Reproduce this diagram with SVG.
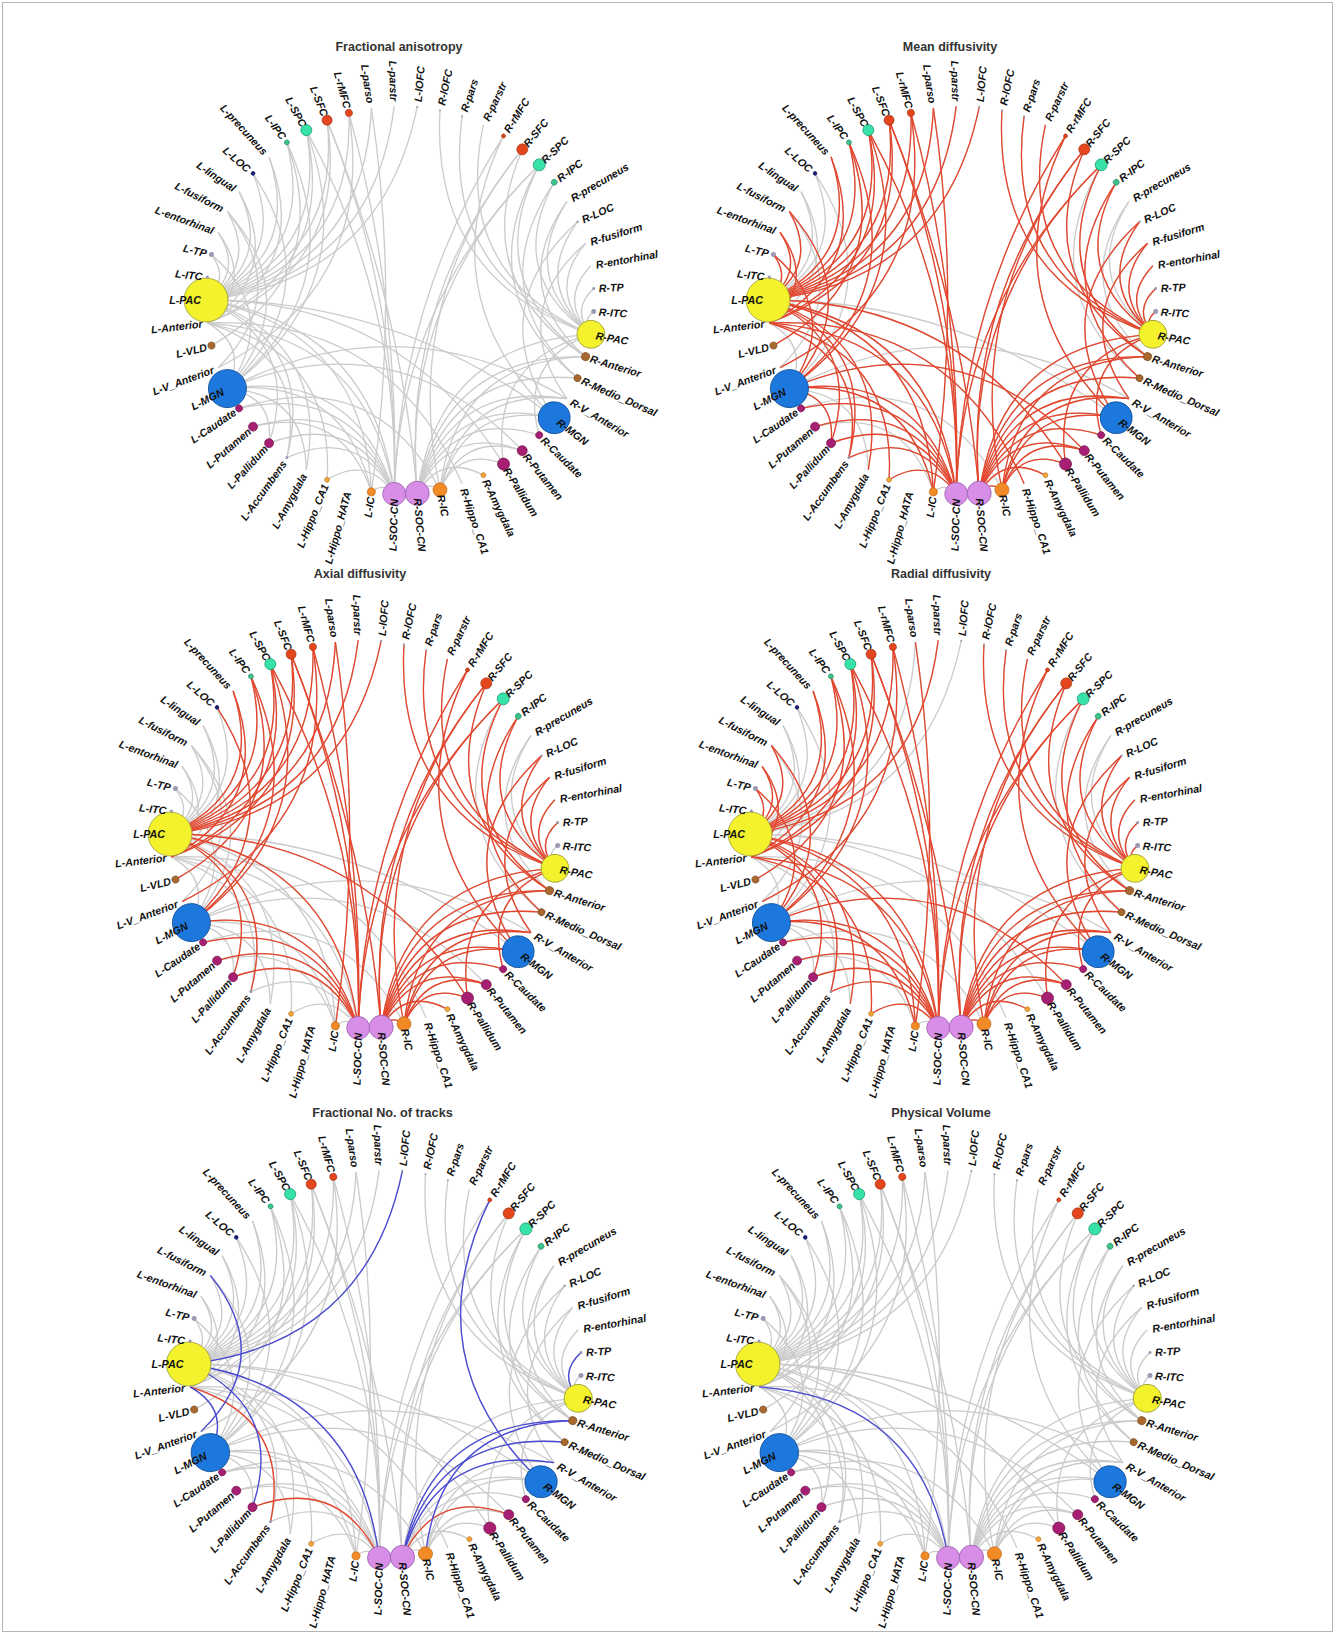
<svg xmlns="http://www.w3.org/2000/svg" xmlns:xlink="http://www.w3.org/1999/xlink" width="1335" height="1634" viewBox="0 0 1335 1634">
<style>
text{font-family:"Liberation Sans",Arial,sans-serif}
.ttl{font-size:12.5px;font-weight:bold;fill:#333;text-anchor:middle;dominant-baseline:central}
.n text{font-size:10.7px;font-weight:bold;font-style:italic;fill:#111;dominant-baseline:central}
.l text{text-anchor:end}
.eg{fill:none;stroke:#cbcbcb;stroke-width:1.3}
.er{fill:none;stroke:#e6452c;stroke-width:1.3}
.eb{fill:none;stroke:#4a4ad6;stroke-width:1.3}
.soc{fill:#d88ee6;stroke:#9b5fb0;stroke-width:.8}
.ic{fill:#f28a26;stroke:#b8661a;stroke-width:.6}
.ca{fill:#f0a63a;stroke:#b07020;stroke-width:.5}
.bg{fill:#a61f72;stroke:#6e1048;stroke-width:.6}
.mgn{fill:#1c78dc;stroke:#15509a;stroke-width:.8}
.th{fill:#a8682e;stroke:#6c4018;stroke-width:.6}
.pac{fill:#f4f22c;stroke:#9a9a38;stroke-width:.8}
.sm{fill:#9a9ab4}
.loc{fill:#1a1f6e}
.ipc{fill:#3cc28a;stroke:#248060;stroke-width:.5}
.spc{fill:#36e2a8;stroke:#1d9a70;stroke-width:.7}
.sfc{fill:#e4461e;stroke:#9c2a0c;stroke-width:.6}
</style>
<defs>
<g id="all">
<path id="e1" d="M-194 0Q-182.3-10.8-192.6-22.9"/>
<path id="e2" d="M-194 0Q-169.7-20.2-188.6-45.6"/>
<path id="e3" d="M-194 0Q-156-28.1-181.9-67.6"/>
<path id="e4" d="M-194 0Q-141.9-34.3-172.6-88.6"/>
<path id="e5" d="M-194 0Q-127.2-38.9-160.9-108.4"/>
<path id="e6" d="M-194 0Q-112.5-41.8-147-126.6"/>
<path id="e7" d="M-194 0Q-98.1-43.2-130.9-143.1"/>
<path id="e8" d="M-194 0Q-84-43.1-113.1-157.6"/>
<path id="e9" d="M-194 0Q-70.6-41.7-93.7-169.9"/>
<path id="e10" d="M-194 0Q-57.9-39-72.9-179.8"/>
<path id="e11" d="M-194 0Q-46.2-35.3-51.1-187.1"/>
<path id="e12" d="M-194 0Q-35.7-30.8-28.6-191.9"/>
<path id="e13" d="M-194 0Q-26.4-25.6-5.8-193.9"/>
<path id="e14" d="M-194 0Q-18.4-20.1 17.2-193.2"/>
<path id="e15" d="M-192.6 22.9Q-144.9-17.3-181.9-67.6"/>
<path id="e16" d="M-192.6 22.9Q-116.7-28.2-160.9-108.4"/>
<path id="e17" d="M-192.6 22.9Q-88.5-32.9-130.9-143.1"/>
<path id="e18" d="M-192.6 22.9Q-62.1-31.9-93.7-169.9"/>
<path id="e19" d="M-192.6 22.9Q-50-29.6-72.9-179.8"/>
<path id="e20" d="M-172.6 88.6Q-119.2 14.2-188.6-45.6"/>
<path id="e21" d="M-172.6 88.6Q-94.4 0-172.6-88.6"/>
<path id="e22" d="M-172.6 88.6Q-69.4-8.2-147-126.6"/>
<path id="e23" d="M-172.6 88.6Q-45.9-11.1-113.1-157.6"/>
<path id="e24" d="M-172.6 88.6Q-35.2-10.7-93.7-169.9"/>
<path id="e25" d="M-181.9 67.6Q-24.2-12.4-51.1-187.1"/>
<path id="e26" d="M-188.6 45.6Q-65.5-24.3-113.1-157.6"/>
<path id="e27" d="M-5.8 193.9Q-16.2 181.9-28.6 191.9"/>
<path id="e28" d="M-5.8 193.9Q-32.7 155.1-72.9 179.8"/>
<path id="e29" d="M-5.8 193.9Q-42.6 126-113.1 157.6"/>
<path id="e30" d="M-5.8 193.9Q-45.1 111.2-130.9 143.1"/>
<path id="e31" d="M-5.8 193.9Q-46.1 96.8-147 126.6"/>
<path id="e32" d="M-5.8 193.9Q-45.6 82.7-160.9 108.4"/>
<path id="e33" d="M-5.8 193.9Q-43.8 69.4-172.6 88.6"/>
<path id="e34" d="M-5.8 193.9Q-31.8 34.8-192.6 22.9"/>
<path id="e35" d="M-5.8 193.9Q-26.4 25.6-194 0"/>
<path id="e36" d="M-28.6 191.9Q-57.9 105.1-147 126.6"/>
<path id="e37" d="M-28.6 191.9Q-55 76.7-172.6 88.6"/>
<path id="e38" d="M-194 0Q-84 43.1-113.1 157.6"/>
<path id="e39" d="M-194 0Q-98.1 43.2-130.9 143.1"/>
<path id="e40" d="M-194 0Q-70.6 41.7-93.7 169.9"/>
<path id="e41" d="M-192.6 22.9Q-65.2 49.8-72.9 179.8"/>
<path id="e42" d="M-172.6 88.6Q-126 96.2-130.9 143.1"/>
<path id="e43" d="M-172.6 88.6Q-95.5 92.7-93.7 169.9"/>
<path id="e44" d="M-194 0Q-35.7 30.8-28.6 191.9"/>
<path id="e45" d="M-5.8 193.9Q0 0-93.7-169.9"/>
<path id="e46" d="M-5.8 193.9Q0 0-72.9-179.8"/>
<path id="e47" d="M-5.8 193.9Q0 0-51.1-187.1"/>
<path id="e48" d="M17.2 193.2Q0 0-72.9-179.8"/>
<path id="e49" d="M-28.6 191.9Q0 0-28.6-191.9"/>
<path id="e50" d="M190.9 34.3Q30.5-20.5 40-189.8"/>
<path id="e51" d="M190.9 34.3Q40.6-24 62.1-183.8"/>
<path id="e52" d="M190.9 34.3Q51.7-26.6 83.4-175.2"/>
<path id="e53" d="M190.9 34.3Q104.2-25.2 154.2-117.7"/>
<path id="e54" d="M190.9 34.3Q118.1-21.3 167-98.7"/>
<path id="e55" d="M190.9 34.3Q132.1-15.7 177.5-78.2"/>
<path id="e56" d="M190.9 34.3Q145.7-8.7 185.5-56.7"/>
<path id="e57" d="M190.9 34.3Q158.4 0 190.9-34.3"/>
<path id="e58" d="M190.9 34.3Q170.6 10.1 193.7-11.5"/>
<path id="e59" d="M190.9 34.3Q181.3 21.6 193.7 11.5"/>
<path id="e60" d="M185.5 56.7Q66.8-20.4 122.3-150.6"/>
<path id="e61" d="M185.5 56.7Q79.7-19.2 139.2-135.1"/>
<path id="e62" d="M177.5 78.2Q68.7-12.3 139.2-135.1"/>
<path id="e63" d="M177.5 78.2Q81.4-9.7 154.2-117.7"/>
<path id="e64" d="M154.2 117.7Q26.8-4.8 103.5-164.1"/>
<path id="e65" d="M154.2 117.7Q81.4 9.7 177.5-78.2"/>
<path id="e66" d="M167 98.7Q106.5 12.7 185.5-56.7"/>
<path id="e67" d="M185.5 56.7Q106.5-12.7 167-98.7"/>
<path id="e68" d="M17.2 193.2Q27 180.6 40 189.8"/>
<path id="e69" d="M17.2 193.2Q41.7 152.9 83.4 175.2"/>
<path id="e70" d="M17.2 193.2Q50 123.3 122.3 150.6"/>
<path id="e71" d="M17.2 193.2Q51.6 108.3 139.2 135.1"/>
<path id="e72" d="M17.2 193.2Q51.8 93.9 154.2 117.7"/>
<path id="e73" d="M17.2 193.2Q47.8 66.6 177.5 78.2"/>
<path id="e74" d="M17.2 193.2Q44 54.2 185.5 56.7"/>
<path id="e75" d="M17.2 193.2Q39.2 42.9 190.9 34.3"/>
<path id="e76" d="M40 189.8Q62.8 131.7 122.3 150.6"/>
<path id="e77" d="M40 189.8Q59.6 146.9 103.5 164.1"/>
<path id="e78" d="M40 189.8Q64.1 101.5 154.2 117.7"/>
<path id="e79" d="M40 189.8Q62.5 87.1 167 98.7"/>
<path id="e80" d="M190.9 34.3Q88.9 59.9 103.5 164.1"/>
<path id="e81" d="M190.9 34.3Q118.3 60.7 139.2 135.1"/>
<path id="e82" d="M17.2 193.2Q0 0 122.3-150.6"/>
<path id="e83" d="M17.2 193.2Q0 0 139.2-135.1"/>
<path id="e84" d="M40 189.8Q0 0 122.3-150.6"/>
<path id="e85" d="M-5.8 193.9Q0 0 139.2-135.1"/>
<path id="e86" d="M-5.8 193.9Q0 0 103.5-164.1"/>
<path id="e87" d="M-194 0Q0 0 103.5 164.1"/>
<path id="e88" d="M-194 0Q0 0 154.2 117.7"/>
<path id="e89" d="M-172.6 88.6Q-3.8 18.1 122.3 150.6"/>
<path id="e90" d="M-172.6 88.6Q0 0 167 98.7"/>
<path id="e91" d="M-160.9 108.4Q-26.2 64.7 40 189.8"/>
<path id="e92" d="M-192.6 22.9Q-9.9 15.6 62.1 183.8"/>
<path id="e93" d="M-172.6-88.6Q-107.1-6.3-181.9 67.6"/>
<path id="e94" d="M-192.6 22.9Q-151.6 46.3-172.6 88.6"/>
<path id="e95" d="M167 98.7Q50.4 79.8 17.2 193.2"/>
<path id="e96" d="M185.5 56.7Q55.4 60.5 40 189.8"/>
<path id="e97" d="M-192.6 22.9Q-92.3 54.5-113.1 157.6"/>
</g>
</defs>
<rect width="1335" height="1634" fill="#fff"/>
<rect x="2.5" y="2.5" width="1330" height="1629" fill="none" stroke="#b4b4b4" stroke-width="1"/>

<g id="FA" transform="translate(400,300)">
<text class="ttl" x="-1" y="-253">Fractional anisotropy</text>
<g id="FA-connectors"><use href="#all" class="eg"/></g>
<g id="FA-nodes" class="n">
<g id="FA-L-SOC-CN" class="l" transform="rotate(-88.3)"><circle class="soc" cx="-194" r="11.5"/><text x="-199">L-SOC-CN</text></g>
<g id="FA-L-IC" class="l" transform="rotate(-81.51)"><circle class="ic" cx="-194" r="4"/><text x="-199">L-IC</text></g>
<g id="FA-L-Hippo_HATA" class="l" transform="rotate(-74.72)"><text x="-199">L-Hippo_HATA</text></g>
<g id="FA-L-Hippo_CA1" class="l" transform="rotate(-67.92)"><circle class="ca" cx="-194" r="2.5"/><text x="-199">L-Hippo_CA1</text></g>
<g id="FA-L-Amygdala" class="l" transform="rotate(-61.13)"><text x="-199">L-Amygdala</text></g>
<g id="FA-L-Accumbens" class="l" transform="rotate(-54.34)"><circle class="sm" cx="-194" r="1.5"/><text x="-199">L-Accumbens</text></g>
<g id="FA-L-Pallidum" class="l" transform="rotate(-47.55)"><circle class="bg" cx="-194" r="4.5"/><text x="-199">L-Pallidum</text></g>
<g id="FA-L-Putamen" class="l" transform="rotate(-40.75)"><circle class="bg" cx="-194" r="4.5"/><text x="-199">L-Putamen</text></g>
<g id="FA-L-Caudate" class="l" transform="rotate(-33.96)"><circle class="bg" cx="-194" r="3.5"/><text x="-199">L-Caudate</text></g>
<g id="FA-L-MGN" class="l" transform="rotate(-27.17)"><circle class="mgn" cx="-194" r="19"/><text x="-199">L-MGN</text></g>
<g id="FA-L-V_Anterior" class="l" transform="rotate(-20.38)"><text x="-199">L-V_Anterior</text></g>
<g id="FA-L-VLD" class="l" transform="rotate(-13.58)"><circle class="th" cx="-194" r="3.5"/><text x="-199">L-VLD</text></g>
<g id="FA-L-Anterior" class="l" transform="rotate(-6.79)"><text x="-199">L-Anterior</text></g>
<g id="FA-L-PAC" class="l"><circle class="pac" cx="-194" r="22"/><text x="-199">L-PAC</text></g>
<g id="FA-L-ITC" class="l" transform="rotate(6.79)"><circle class="sm" cx="-194" r="1.5"/><text x="-199">L-ITC</text></g>
<g id="FA-L-TP" class="l" transform="rotate(13.58)"><circle class="sm" cx="-194" r="2.5"/><text x="-199">L-TP</text></g>
<g id="FA-L-entorhinal" class="l" transform="rotate(20.38)"><text x="-199">L-entorhinal</text></g>
<g id="FA-L-fusiform" class="l" transform="rotate(27.17)"><text x="-199">L-fusiform</text></g>
<g id="FA-L-lingual" class="l" transform="rotate(33.96)"><text x="-199">L-lingual</text></g>
<g id="FA-L-LOC" class="l" transform="rotate(40.75)"><circle class="loc" cx="-194" r="2.2"/><text x="-199">L-LOC</text></g>
<g id="FA-L-precuneus" class="l" transform="rotate(47.55)"><text x="-199">L-precuneus</text></g>
<g id="FA-L-IPC" class="l" transform="rotate(54.34)"><circle class="ipc" cx="-194" r="2.5"/><text x="-199">L-IPC</text></g>
<g id="FA-L-SPC" class="l" transform="rotate(61.13)"><circle class="spc" cx="-194" r="5.5"/><text x="-199">L-SPC</text></g>
<g id="FA-L-SFC" class="l" transform="rotate(67.92)"><circle class="sfc" cx="-194" r="5"/><text x="-199">L-SFC</text></g>
<g id="FA-L-rMFC" class="l" transform="rotate(74.72)"><circle class="sfc" cx="-194" r="3.5"/><text x="-199">L-rMFC</text></g>
<g id="FA-L-parso" class="l" transform="rotate(81.51)"><text x="-199">L-parso</text></g>
<g id="FA-L-parstr" class="l" transform="rotate(88.3)"><text x="-199">L-parstr</text></g>
<g id="FA-L-lOFC" transform="rotate(-84.91)"><circle class="sm" cx="194" r="1"/><text x="199">L-lOFC</text></g>
<g id="FA-R-lOFC" transform="rotate(-78.11)"><circle class="sm" cx="194" r="1"/><text x="199">R-lOFC</text></g>
<g id="FA-R-pars" transform="rotate(-71.32)"><circle class="sm" cx="194" r="1"/><text x="199">R-pars</text></g>
<g id="FA-R-parstr" transform="rotate(-64.53)"><text x="199">R-parstr</text></g>
<g id="FA-R-rMFC" transform="rotate(-57.74)"><circle class="sfc" cx="194" r="2"/><text x="199">R-rMFC</text></g>
<g id="FA-R-SFC" transform="rotate(-50.94)"><circle class="sfc" cx="194" r="5.5"/><text x="199">R-SFC</text></g>
<g id="FA-R-SPC" transform="rotate(-44.15)"><circle class="spc" cx="194" r="6"/><text x="199">R-SPC</text></g>
<g id="FA-R-IPC" transform="rotate(-37.36)"><circle class="ipc" cx="194" r="3"/><text x="199">R-IPC</text></g>
<g id="FA-R-precuneus" transform="rotate(-30.57)"><text x="199">R-precuneus</text></g>
<g id="FA-R-LOC" transform="rotate(-23.77)"><circle class="sm" cx="194" r="1.2"/><text x="199">R-LOC</text></g>
<g id="FA-R-fusiform" transform="rotate(-16.98)"><text x="199">R-fusiform</text></g>
<g id="FA-R-entorhinal" transform="rotate(-10.19)"><text x="199">R-entorhinal</text></g>
<g id="FA-R-TP" transform="rotate(-3.4)"><circle class="sm" cx="194" r="1.5"/><text x="199">R-TP</text></g>
<g id="FA-R-ITC" transform="rotate(3.4)"><circle class="sm" cx="194" r="2.5"/><text x="199">R-ITC</text></g>
<g id="FA-R-PAC" transform="rotate(10.19)"><circle class="pac" cx="194" r="14"/><text x="199">R-PAC</text></g>
<g id="FA-R-Anterior" transform="rotate(16.98)"><circle class="th" cx="194" r="4"/><text x="199">R-Anterior</text></g>
<g id="FA-R-Medio_Dorsal" transform="rotate(23.77)"><circle class="th" cx="194" r="3.5"/><text x="199">R-Medio_Dorsal</text></g>
<g id="FA-R-V_Anterior" transform="rotate(30.57)"><text x="199">R-V_Anterior</text></g>
<g id="FA-R-MGN" transform="rotate(37.36)"><circle class="mgn" cx="194" r="16"/><text x="199">R-MGN</text></g>
<g id="FA-R-Caudate" transform="rotate(44.15)"><circle class="bg" cx="194" r="3.5"/><text x="199">R-Caudate</text></g>
<g id="FA-R-Putamen" transform="rotate(50.94)"><circle class="bg" cx="194" r="5"/><text x="199">R-Putamen</text></g>
<g id="FA-R-Pallidum" transform="rotate(57.74)"><circle class="bg" cx="194" r="6"/><text x="199">R-Pallidum</text></g>
<g id="FA-R-Amygdala" transform="rotate(64.53)"><circle class="ca" cx="194" r="2.5"/><text x="199">R-Amygdala</text></g>
<g id="FA-R-Hippo_CA1" transform="rotate(71.32)"><text x="199">R-Hippo_CA1</text></g>
<g id="FA-R-IC" transform="rotate(78.11)"><circle class="ic" cx="194" r="7"/><text x="199">R-IC</text></g>
<g id="FA-R-SOC-CN" transform="rotate(84.91)"><circle class="soc" cx="194" r="12"/><text x="199">R-SOC-CN</text></g>
</g>
</g>

<g id="MD" transform="translate(962,300)">
<text class="ttl" x="-12" y="-253">Mean diffusivity</text>
<g id="MD-connectors"><use href="#all" class="eg"/>
<g class="er"><use href="#e1"/><use href="#e2"/><use href="#e3"/><use href="#e4"/><use href="#e7"/><use href="#e8"/><use href="#e9"/><use href="#e10"/><use href="#e11"/><use href="#e12"/><use href="#e13"/><use href="#e14"/><use href="#e15"/><use href="#e17"/><use href="#e18"/><use href="#e19"/><use href="#e20"/><use href="#e21"/><use href="#e23"/><use href="#e24"/><use href="#e25"/><use href="#e26"/><use href="#e28"/><use href="#e29"/><use href="#e30"/><use href="#e31"/><use href="#e32"/><use href="#e33"/><use href="#e34"/><use href="#e35"/><use href="#e37"/><use href="#e38"/><use href="#e39"/><use href="#e40"/><use href="#e41"/><use href="#e42"/><use href="#e44"/><use href="#e45"/><use href="#e46"/><use href="#e47"/><use href="#e48"/><use href="#e49"/><use href="#e50"/><use href="#e51"/><use href="#e52"/><use href="#e53"/><use href="#e55"/><use href="#e56"/><use href="#e57"/><use href="#e58"/><use href="#e59"/><use href="#e60"/><use href="#e61"/><use href="#e63"/><use href="#e64"/><use href="#e65"/><use href="#e66"/><use href="#e68"/><use href="#e69"/><use href="#e70"/><use href="#e71"/><use href="#e72"/><use href="#e73"/><use href="#e74"/><use href="#e75"/><use href="#e76"/><use href="#e77"/><use href="#e78"/><use href="#e79"/><use href="#e80"/><use href="#e81"/><use href="#e82"/><use href="#e83"/><use href="#e84"/><use href="#e85"/><use href="#e86"/><use href="#e87"/><use href="#e89"/><use href="#e92"/><use href="#e95"/><use href="#e96"/><use href="#e97"/></g>
</g>
<g id="MD-nodes" class="n">
<g id="MD-L-SOC-CN" class="l" transform="rotate(-88.3)"><circle class="soc" cx="-194" r="11.5"/><text x="-199">L-SOC-CN</text></g>
<g id="MD-L-IC" class="l" transform="rotate(-81.51)"><circle class="ic" cx="-194" r="4"/><text x="-199">L-IC</text></g>
<g id="MD-L-Hippo_HATA" class="l" transform="rotate(-74.72)"><text x="-199">L-Hippo_HATA</text></g>
<g id="MD-L-Hippo_CA1" class="l" transform="rotate(-67.92)"><circle class="ca" cx="-194" r="2.5"/><text x="-199">L-Hippo_CA1</text></g>
<g id="MD-L-Amygdala" class="l" transform="rotate(-61.13)"><text x="-199">L-Amygdala</text></g>
<g id="MD-L-Accumbens" class="l" transform="rotate(-54.34)"><circle class="sm" cx="-194" r="1.5"/><text x="-199">L-Accumbens</text></g>
<g id="MD-L-Pallidum" class="l" transform="rotate(-47.55)"><circle class="bg" cx="-194" r="4.5"/><text x="-199">L-Pallidum</text></g>
<g id="MD-L-Putamen" class="l" transform="rotate(-40.75)"><circle class="bg" cx="-194" r="4.5"/><text x="-199">L-Putamen</text></g>
<g id="MD-L-Caudate" class="l" transform="rotate(-33.96)"><circle class="bg" cx="-194" r="3.5"/><text x="-199">L-Caudate</text></g>
<g id="MD-L-MGN" class="l" transform="rotate(-27.17)"><circle class="mgn" cx="-194" r="19"/><text x="-199">L-MGN</text></g>
<g id="MD-L-V_Anterior" class="l" transform="rotate(-20.38)"><text x="-199">L-V_Anterior</text></g>
<g id="MD-L-VLD" class="l" transform="rotate(-13.58)"><circle class="th" cx="-194" r="3.5"/><text x="-199">L-VLD</text></g>
<g id="MD-L-Anterior" class="l" transform="rotate(-6.79)"><text x="-199">L-Anterior</text></g>
<g id="MD-L-PAC" class="l"><circle class="pac" cx="-194" r="22"/><text x="-199">L-PAC</text></g>
<g id="MD-L-ITC" class="l" transform="rotate(6.79)"><circle class="sm" cx="-194" r="1.5"/><text x="-199">L-ITC</text></g>
<g id="MD-L-TP" class="l" transform="rotate(13.58)"><circle class="sm" cx="-194" r="2.5"/><text x="-199">L-TP</text></g>
<g id="MD-L-entorhinal" class="l" transform="rotate(20.38)"><text x="-199">L-entorhinal</text></g>
<g id="MD-L-fusiform" class="l" transform="rotate(27.17)"><text x="-199">L-fusiform</text></g>
<g id="MD-L-lingual" class="l" transform="rotate(33.96)"><text x="-199">L-lingual</text></g>
<g id="MD-L-LOC" class="l" transform="rotate(40.75)"><circle class="loc" cx="-194" r="2.2"/><text x="-199">L-LOC</text></g>
<g id="MD-L-precuneus" class="l" transform="rotate(47.55)"><text x="-199">L-precuneus</text></g>
<g id="MD-L-IPC" class="l" transform="rotate(54.34)"><circle class="ipc" cx="-194" r="2.5"/><text x="-199">L-IPC</text></g>
<g id="MD-L-SPC" class="l" transform="rotate(61.13)"><circle class="spc" cx="-194" r="5.5"/><text x="-199">L-SPC</text></g>
<g id="MD-L-SFC" class="l" transform="rotate(67.92)"><circle class="sfc" cx="-194" r="5"/><text x="-199">L-SFC</text></g>
<g id="MD-L-rMFC" class="l" transform="rotate(74.72)"><circle class="sfc" cx="-194" r="3.5"/><text x="-199">L-rMFC</text></g>
<g id="MD-L-parso" class="l" transform="rotate(81.51)"><text x="-199">L-parso</text></g>
<g id="MD-L-parstr" class="l" transform="rotate(88.3)"><text x="-199">L-parstr</text></g>
<g id="MD-L-lOFC" transform="rotate(-84.91)"><circle class="sm" cx="194" r="1"/><text x="199">L-lOFC</text></g>
<g id="MD-R-lOFC" transform="rotate(-78.11)"><circle class="sm" cx="194" r="1"/><text x="199">R-lOFC</text></g>
<g id="MD-R-pars" transform="rotate(-71.32)"><circle class="sm" cx="194" r="1"/><text x="199">R-pars</text></g>
<g id="MD-R-parstr" transform="rotate(-64.53)"><text x="199">R-parstr</text></g>
<g id="MD-R-rMFC" transform="rotate(-57.74)"><circle class="sfc" cx="194" r="2"/><text x="199">R-rMFC</text></g>
<g id="MD-R-SFC" transform="rotate(-50.94)"><circle class="sfc" cx="194" r="5.5"/><text x="199">R-SFC</text></g>
<g id="MD-R-SPC" transform="rotate(-44.15)"><circle class="spc" cx="194" r="6"/><text x="199">R-SPC</text></g>
<g id="MD-R-IPC" transform="rotate(-37.36)"><circle class="ipc" cx="194" r="3"/><text x="199">R-IPC</text></g>
<g id="MD-R-precuneus" transform="rotate(-30.57)"><text x="199">R-precuneus</text></g>
<g id="MD-R-LOC" transform="rotate(-23.77)"><circle class="sm" cx="194" r="1.2"/><text x="199">R-LOC</text></g>
<g id="MD-R-fusiform" transform="rotate(-16.98)"><text x="199">R-fusiform</text></g>
<g id="MD-R-entorhinal" transform="rotate(-10.19)"><text x="199">R-entorhinal</text></g>
<g id="MD-R-TP" transform="rotate(-3.4)"><circle class="sm" cx="194" r="1.5"/><text x="199">R-TP</text></g>
<g id="MD-R-ITC" transform="rotate(3.4)"><circle class="sm" cx="194" r="2.5"/><text x="199">R-ITC</text></g>
<g id="MD-R-PAC" transform="rotate(10.19)"><circle class="pac" cx="194" r="14"/><text x="199">R-PAC</text></g>
<g id="MD-R-Anterior" transform="rotate(16.98)"><circle class="th" cx="194" r="4"/><text x="199">R-Anterior</text></g>
<g id="MD-R-Medio_Dorsal" transform="rotate(23.77)"><circle class="th" cx="194" r="3.5"/><text x="199">R-Medio_Dorsal</text></g>
<g id="MD-R-V_Anterior" transform="rotate(30.57)"><text x="199">R-V_Anterior</text></g>
<g id="MD-R-MGN" transform="rotate(37.36)"><circle class="mgn" cx="194" r="16"/><text x="199">R-MGN</text></g>
<g id="MD-R-Caudate" transform="rotate(44.15)"><circle class="bg" cx="194" r="3.5"/><text x="199">R-Caudate</text></g>
<g id="MD-R-Putamen" transform="rotate(50.94)"><circle class="bg" cx="194" r="5"/><text x="199">R-Putamen</text></g>
<g id="MD-R-Pallidum" transform="rotate(57.74)"><circle class="bg" cx="194" r="6"/><text x="199">R-Pallidum</text></g>
<g id="MD-R-Amygdala" transform="rotate(64.53)"><circle class="ca" cx="194" r="2.5"/><text x="199">R-Amygdala</text></g>
<g id="MD-R-Hippo_CA1" transform="rotate(71.32)"><text x="199">R-Hippo_CA1</text></g>
<g id="MD-R-IC" transform="rotate(78.11)"><circle class="ic" cx="194" r="7"/><text x="199">R-IC</text></g>
<g id="MD-R-SOC-CN" transform="rotate(84.91)"><circle class="soc" cx="194" r="12"/><text x="199">R-SOC-CN</text></g>
</g>
</g>

<g id="AD" transform="translate(364,834)">
<text class="ttl" x="-4" y="-260">Axial diffusivity</text>
<g id="AD-connectors"><use href="#all" class="eg"/>
<g class="er"><use href="#e7"/><use href="#e8"/><use href="#e9"/><use href="#e10"/><use href="#e11"/><use href="#e12"/><use href="#e13"/><use href="#e14"/><use href="#e17"/><use href="#e18"/><use href="#e19"/><use href="#e22"/><use href="#e23"/><use href="#e24"/><use href="#e25"/><use href="#e26"/><use href="#e30"/><use href="#e31"/><use href="#e32"/><use href="#e33"/><use href="#e35"/><use href="#e38"/><use href="#e39"/><use href="#e45"/><use href="#e46"/><use href="#e47"/><use href="#e48"/><use href="#e49"/><use href="#e50"/><use href="#e51"/><use href="#e52"/><use href="#e53"/><use href="#e55"/><use href="#e56"/><use href="#e57"/><use href="#e58"/><use href="#e60"/><use href="#e61"/><use href="#e63"/><use href="#e64"/><use href="#e65"/><use href="#e66"/><use href="#e68"/><use href="#e69"/><use href="#e70"/><use href="#e71"/><use href="#e72"/><use href="#e73"/><use href="#e74"/><use href="#e75"/><use href="#e76"/><use href="#e77"/><use href="#e78"/><use href="#e79"/><use href="#e80"/><use href="#e81"/><use href="#e82"/><use href="#e83"/><use href="#e84"/><use href="#e85"/><use href="#e86"/><use href="#e87"/><use href="#e95"/><use href="#e96"/></g>
</g>
<g id="AD-nodes" class="n">
<g id="AD-L-SOC-CN" class="l" transform="rotate(-88.3)"><circle class="soc" cx="-194" r="11.5"/><text x="-199">L-SOC-CN</text></g>
<g id="AD-L-IC" class="l" transform="rotate(-81.51)"><circle class="ic" cx="-194" r="4"/><text x="-199">L-IC</text></g>
<g id="AD-L-Hippo_HATA" class="l" transform="rotate(-74.72)"><text x="-199">L-Hippo_HATA</text></g>
<g id="AD-L-Hippo_CA1" class="l" transform="rotate(-67.92)"><circle class="ca" cx="-194" r="2.5"/><text x="-199">L-Hippo_CA1</text></g>
<g id="AD-L-Amygdala" class="l" transform="rotate(-61.13)"><text x="-199">L-Amygdala</text></g>
<g id="AD-L-Accumbens" class="l" transform="rotate(-54.34)"><circle class="sm" cx="-194" r="1.5"/><text x="-199">L-Accumbens</text></g>
<g id="AD-L-Pallidum" class="l" transform="rotate(-47.55)"><circle class="bg" cx="-194" r="4.5"/><text x="-199">L-Pallidum</text></g>
<g id="AD-L-Putamen" class="l" transform="rotate(-40.75)"><circle class="bg" cx="-194" r="4.5"/><text x="-199">L-Putamen</text></g>
<g id="AD-L-Caudate" class="l" transform="rotate(-33.96)"><circle class="bg" cx="-194" r="3.5"/><text x="-199">L-Caudate</text></g>
<g id="AD-L-MGN" class="l" transform="rotate(-27.17)"><circle class="mgn" cx="-194" r="19"/><text x="-199">L-MGN</text></g>
<g id="AD-L-V_Anterior" class="l" transform="rotate(-20.38)"><text x="-199">L-V_Anterior</text></g>
<g id="AD-L-VLD" class="l" transform="rotate(-13.58)"><circle class="th" cx="-194" r="3.5"/><text x="-199">L-VLD</text></g>
<g id="AD-L-Anterior" class="l" transform="rotate(-6.79)"><text x="-199">L-Anterior</text></g>
<g id="AD-L-PAC" class="l"><circle class="pac" cx="-194" r="22"/><text x="-199">L-PAC</text></g>
<g id="AD-L-ITC" class="l" transform="rotate(6.79)"><circle class="sm" cx="-194" r="1.5"/><text x="-199">L-ITC</text></g>
<g id="AD-L-TP" class="l" transform="rotate(13.58)"><circle class="sm" cx="-194" r="2.5"/><text x="-199">L-TP</text></g>
<g id="AD-L-entorhinal" class="l" transform="rotate(20.38)"><text x="-199">L-entorhinal</text></g>
<g id="AD-L-fusiform" class="l" transform="rotate(27.17)"><text x="-199">L-fusiform</text></g>
<g id="AD-L-lingual" class="l" transform="rotate(33.96)"><text x="-199">L-lingual</text></g>
<g id="AD-L-LOC" class="l" transform="rotate(40.75)"><circle class="loc" cx="-194" r="2.2"/><text x="-199">L-LOC</text></g>
<g id="AD-L-precuneus" class="l" transform="rotate(47.55)"><text x="-199">L-precuneus</text></g>
<g id="AD-L-IPC" class="l" transform="rotate(54.34)"><circle class="ipc" cx="-194" r="2.5"/><text x="-199">L-IPC</text></g>
<g id="AD-L-SPC" class="l" transform="rotate(61.13)"><circle class="spc" cx="-194" r="5.5"/><text x="-199">L-SPC</text></g>
<g id="AD-L-SFC" class="l" transform="rotate(67.92)"><circle class="sfc" cx="-194" r="5"/><text x="-199">L-SFC</text></g>
<g id="AD-L-rMFC" class="l" transform="rotate(74.72)"><circle class="sfc" cx="-194" r="3.5"/><text x="-199">L-rMFC</text></g>
<g id="AD-L-parso" class="l" transform="rotate(81.51)"><text x="-199">L-parso</text></g>
<g id="AD-L-parstr" class="l" transform="rotate(88.3)"><text x="-199">L-parstr</text></g>
<g id="AD-L-lOFC" transform="rotate(-84.91)"><circle class="sm" cx="194" r="1"/><text x="199">L-lOFC</text></g>
<g id="AD-R-lOFC" transform="rotate(-78.11)"><circle class="sm" cx="194" r="1"/><text x="199">R-lOFC</text></g>
<g id="AD-R-pars" transform="rotate(-71.32)"><circle class="sm" cx="194" r="1"/><text x="199">R-pars</text></g>
<g id="AD-R-parstr" transform="rotate(-64.53)"><text x="199">R-parstr</text></g>
<g id="AD-R-rMFC" transform="rotate(-57.74)"><circle class="sfc" cx="194" r="2"/><text x="199">R-rMFC</text></g>
<g id="AD-R-SFC" transform="rotate(-50.94)"><circle class="sfc" cx="194" r="5.5"/><text x="199">R-SFC</text></g>
<g id="AD-R-SPC" transform="rotate(-44.15)"><circle class="spc" cx="194" r="6"/><text x="199">R-SPC</text></g>
<g id="AD-R-IPC" transform="rotate(-37.36)"><circle class="ipc" cx="194" r="3"/><text x="199">R-IPC</text></g>
<g id="AD-R-precuneus" transform="rotate(-30.57)"><text x="199">R-precuneus</text></g>
<g id="AD-R-LOC" transform="rotate(-23.77)"><circle class="sm" cx="194" r="1.2"/><text x="199">R-LOC</text></g>
<g id="AD-R-fusiform" transform="rotate(-16.98)"><text x="199">R-fusiform</text></g>
<g id="AD-R-entorhinal" transform="rotate(-10.19)"><text x="199">R-entorhinal</text></g>
<g id="AD-R-TP" transform="rotate(-3.4)"><circle class="sm" cx="194" r="1.5"/><text x="199">R-TP</text></g>
<g id="AD-R-ITC" transform="rotate(3.4)"><circle class="sm" cx="194" r="2.5"/><text x="199">R-ITC</text></g>
<g id="AD-R-PAC" transform="rotate(10.19)"><circle class="pac" cx="194" r="14"/><text x="199">R-PAC</text></g>
<g id="AD-R-Anterior" transform="rotate(16.98)"><circle class="th" cx="194" r="4"/><text x="199">R-Anterior</text></g>
<g id="AD-R-Medio_Dorsal" transform="rotate(23.77)"><circle class="th" cx="194" r="3.5"/><text x="199">R-Medio_Dorsal</text></g>
<g id="AD-R-V_Anterior" transform="rotate(30.57)"><text x="199">R-V_Anterior</text></g>
<g id="AD-R-MGN" transform="rotate(37.36)"><circle class="mgn" cx="194" r="16"/><text x="199">R-MGN</text></g>
<g id="AD-R-Caudate" transform="rotate(44.15)"><circle class="bg" cx="194" r="3.5"/><text x="199">R-Caudate</text></g>
<g id="AD-R-Putamen" transform="rotate(50.94)"><circle class="bg" cx="194" r="5"/><text x="199">R-Putamen</text></g>
<g id="AD-R-Pallidum" transform="rotate(57.74)"><circle class="bg" cx="194" r="6"/><text x="199">R-Pallidum</text></g>
<g id="AD-R-Amygdala" transform="rotate(64.53)"><circle class="ca" cx="194" r="2.5"/><text x="199">R-Amygdala</text></g>
<g id="AD-R-Hippo_CA1" transform="rotate(71.32)"><text x="199">R-Hippo_CA1</text></g>
<g id="AD-R-IC" transform="rotate(78.11)"><circle class="ic" cx="194" r="7"/><text x="199">R-IC</text></g>
<g id="AD-R-SOC-CN" transform="rotate(84.91)"><circle class="soc" cx="194" r="12"/><text x="199">R-SOC-CN</text></g>
</g>
</g>

<g id="RD" transform="translate(944,834)">
<text class="ttl" x="-3" y="-260">Radial diffusivity</text>
<g id="RD-connectors"><use href="#all" class="eg"/>
<g class="er"><use href="#e1"/><use href="#e2"/><use href="#e3"/><use href="#e4"/><use href="#e7"/><use href="#e8"/><use href="#e9"/><use href="#e10"/><use href="#e11"/><use href="#e13"/><use href="#e15"/><use href="#e17"/><use href="#e18"/><use href="#e19"/><use href="#e20"/><use href="#e21"/><use href="#e23"/><use href="#e24"/><use href="#e25"/><use href="#e26"/><use href="#e28"/><use href="#e29"/><use href="#e30"/><use href="#e31"/><use href="#e32"/><use href="#e33"/><use href="#e34"/><use href="#e35"/><use href="#e37"/><use href="#e38"/><use href="#e39"/><use href="#e40"/><use href="#e41"/><use href="#e44"/><use href="#e45"/><use href="#e46"/><use href="#e47"/><use href="#e48"/><use href="#e49"/><use href="#e50"/><use href="#e51"/><use href="#e52"/><use href="#e53"/><use href="#e55"/><use href="#e56"/><use href="#e57"/><use href="#e58"/><use href="#e59"/><use href="#e60"/><use href="#e61"/><use href="#e63"/><use href="#e64"/><use href="#e65"/><use href="#e66"/><use href="#e68"/><use href="#e69"/><use href="#e70"/><use href="#e71"/><use href="#e72"/><use href="#e73"/><use href="#e74"/><use href="#e75"/><use href="#e76"/><use href="#e77"/><use href="#e78"/><use href="#e79"/><use href="#e80"/><use href="#e81"/><use href="#e82"/><use href="#e83"/><use href="#e84"/><use href="#e85"/><use href="#e86"/><use href="#e89"/><use href="#e95"/><use href="#e96"/></g>
</g>
<g id="RD-nodes" class="n">
<g id="RD-L-SOC-CN" class="l" transform="rotate(-88.3)"><circle class="soc" cx="-194" r="11.5"/><text x="-199">L-SOC-CN</text></g>
<g id="RD-L-IC" class="l" transform="rotate(-81.51)"><circle class="ic" cx="-194" r="4"/><text x="-199">L-IC</text></g>
<g id="RD-L-Hippo_HATA" class="l" transform="rotate(-74.72)"><text x="-199">L-Hippo_HATA</text></g>
<g id="RD-L-Hippo_CA1" class="l" transform="rotate(-67.92)"><circle class="ca" cx="-194" r="2.5"/><text x="-199">L-Hippo_CA1</text></g>
<g id="RD-L-Amygdala" class="l" transform="rotate(-61.13)"><text x="-199">L-Amygdala</text></g>
<g id="RD-L-Accumbens" class="l" transform="rotate(-54.34)"><circle class="sm" cx="-194" r="1.5"/><text x="-199">L-Accumbens</text></g>
<g id="RD-L-Pallidum" class="l" transform="rotate(-47.55)"><circle class="bg" cx="-194" r="4.5"/><text x="-199">L-Pallidum</text></g>
<g id="RD-L-Putamen" class="l" transform="rotate(-40.75)"><circle class="bg" cx="-194" r="4.5"/><text x="-199">L-Putamen</text></g>
<g id="RD-L-Caudate" class="l" transform="rotate(-33.96)"><circle class="bg" cx="-194" r="3.5"/><text x="-199">L-Caudate</text></g>
<g id="RD-L-MGN" class="l" transform="rotate(-27.17)"><circle class="mgn" cx="-194" r="19"/><text x="-199">L-MGN</text></g>
<g id="RD-L-V_Anterior" class="l" transform="rotate(-20.38)"><text x="-199">L-V_Anterior</text></g>
<g id="RD-L-VLD" class="l" transform="rotate(-13.58)"><circle class="th" cx="-194" r="3.5"/><text x="-199">L-VLD</text></g>
<g id="RD-L-Anterior" class="l" transform="rotate(-6.79)"><text x="-199">L-Anterior</text></g>
<g id="RD-L-PAC" class="l"><circle class="pac" cx="-194" r="22"/><text x="-199">L-PAC</text></g>
<g id="RD-L-ITC" class="l" transform="rotate(6.79)"><circle class="sm" cx="-194" r="1.5"/><text x="-199">L-ITC</text></g>
<g id="RD-L-TP" class="l" transform="rotate(13.58)"><circle class="sm" cx="-194" r="2.5"/><text x="-199">L-TP</text></g>
<g id="RD-L-entorhinal" class="l" transform="rotate(20.38)"><text x="-199">L-entorhinal</text></g>
<g id="RD-L-fusiform" class="l" transform="rotate(27.17)"><text x="-199">L-fusiform</text></g>
<g id="RD-L-lingual" class="l" transform="rotate(33.96)"><text x="-199">L-lingual</text></g>
<g id="RD-L-LOC" class="l" transform="rotate(40.75)"><circle class="loc" cx="-194" r="2.2"/><text x="-199">L-LOC</text></g>
<g id="RD-L-precuneus" class="l" transform="rotate(47.55)"><text x="-199">L-precuneus</text></g>
<g id="RD-L-IPC" class="l" transform="rotate(54.34)"><circle class="ipc" cx="-194" r="2.5"/><text x="-199">L-IPC</text></g>
<g id="RD-L-SPC" class="l" transform="rotate(61.13)"><circle class="spc" cx="-194" r="5.5"/><text x="-199">L-SPC</text></g>
<g id="RD-L-SFC" class="l" transform="rotate(67.92)"><circle class="sfc" cx="-194" r="5"/><text x="-199">L-SFC</text></g>
<g id="RD-L-rMFC" class="l" transform="rotate(74.72)"><circle class="sfc" cx="-194" r="3.5"/><text x="-199">L-rMFC</text></g>
<g id="RD-L-parso" class="l" transform="rotate(81.51)"><text x="-199">L-parso</text></g>
<g id="RD-L-parstr" class="l" transform="rotate(88.3)"><text x="-199">L-parstr</text></g>
<g id="RD-L-lOFC" transform="rotate(-84.91)"><circle class="sm" cx="194" r="1"/><text x="199">L-lOFC</text></g>
<g id="RD-R-lOFC" transform="rotate(-78.11)"><circle class="sm" cx="194" r="1"/><text x="199">R-lOFC</text></g>
<g id="RD-R-pars" transform="rotate(-71.32)"><circle class="sm" cx="194" r="1"/><text x="199">R-pars</text></g>
<g id="RD-R-parstr" transform="rotate(-64.53)"><text x="199">R-parstr</text></g>
<g id="RD-R-rMFC" transform="rotate(-57.74)"><circle class="sfc" cx="194" r="2"/><text x="199">R-rMFC</text></g>
<g id="RD-R-SFC" transform="rotate(-50.94)"><circle class="sfc" cx="194" r="5.5"/><text x="199">R-SFC</text></g>
<g id="RD-R-SPC" transform="rotate(-44.15)"><circle class="spc" cx="194" r="6"/><text x="199">R-SPC</text></g>
<g id="RD-R-IPC" transform="rotate(-37.36)"><circle class="ipc" cx="194" r="3"/><text x="199">R-IPC</text></g>
<g id="RD-R-precuneus" transform="rotate(-30.57)"><text x="199">R-precuneus</text></g>
<g id="RD-R-LOC" transform="rotate(-23.77)"><circle class="sm" cx="194" r="1.2"/><text x="199">R-LOC</text></g>
<g id="RD-R-fusiform" transform="rotate(-16.98)"><text x="199">R-fusiform</text></g>
<g id="RD-R-entorhinal" transform="rotate(-10.19)"><text x="199">R-entorhinal</text></g>
<g id="RD-R-TP" transform="rotate(-3.4)"><circle class="sm" cx="194" r="1.5"/><text x="199">R-TP</text></g>
<g id="RD-R-ITC" transform="rotate(3.4)"><circle class="sm" cx="194" r="2.5"/><text x="199">R-ITC</text></g>
<g id="RD-R-PAC" transform="rotate(10.19)"><circle class="pac" cx="194" r="14"/><text x="199">R-PAC</text></g>
<g id="RD-R-Anterior" transform="rotate(16.98)"><circle class="th" cx="194" r="4"/><text x="199">R-Anterior</text></g>
<g id="RD-R-Medio_Dorsal" transform="rotate(23.77)"><circle class="th" cx="194" r="3.5"/><text x="199">R-Medio_Dorsal</text></g>
<g id="RD-R-V_Anterior" transform="rotate(30.57)"><text x="199">R-V_Anterior</text></g>
<g id="RD-R-MGN" transform="rotate(37.36)"><circle class="mgn" cx="194" r="16"/><text x="199">R-MGN</text></g>
<g id="RD-R-Caudate" transform="rotate(44.15)"><circle class="bg" cx="194" r="3.5"/><text x="199">R-Caudate</text></g>
<g id="RD-R-Putamen" transform="rotate(50.94)"><circle class="bg" cx="194" r="5"/><text x="199">R-Putamen</text></g>
<g id="RD-R-Pallidum" transform="rotate(57.74)"><circle class="bg" cx="194" r="6"/><text x="199">R-Pallidum</text></g>
<g id="RD-R-Amygdala" transform="rotate(64.53)"><circle class="ca" cx="194" r="2.5"/><text x="199">R-Amygdala</text></g>
<g id="RD-R-Hippo_CA1" transform="rotate(71.32)"><text x="199">R-Hippo_CA1</text></g>
<g id="RD-R-IC" transform="rotate(78.11)"><circle class="ic" cx="194" r="7"/><text x="199">R-IC</text></g>
<g id="RD-R-SOC-CN" transform="rotate(84.91)"><circle class="soc" cx="194" r="12"/><text x="199">R-SOC-CN</text></g>
</g>
</g>

<g id="FNT" transform="translate(385,1364) scale(1.012,1)">
<text class="ttl" x="-2.5" y="-251">Fractional No. of tracks</text>
<g id="FNT-connectors"><use href="#all" class="eg"/>
<g class="er"><use href="#e97"/><use href="#e30"/><use href="#e70"/></g>
<g class="eb"><use href="#e14"/><use href="#e93"/><use href="#e94"/><use href="#e39"/><use href="#e35"/><use href="#e64"/><use href="#e58"/><use href="#e73"/><use href="#e74"/><use href="#e95"/><use href="#e96"/></g>
</g>
<g id="FNT-nodes" class="n">
<g id="FNT-L-SOC-CN" class="l" transform="rotate(-88.3)"><circle class="soc" cx="-194" r="11.5"/><text x="-199">L-SOC-CN</text></g>
<g id="FNT-L-IC" class="l" transform="rotate(-81.51)"><circle class="ic" cx="-194" r="4"/><text x="-199">L-IC</text></g>
<g id="FNT-L-Hippo_HATA" class="l" transform="rotate(-74.72)"><text x="-199">L-Hippo_HATA</text></g>
<g id="FNT-L-Hippo_CA1" class="l" transform="rotate(-67.92)"><circle class="ca" cx="-194" r="2.5"/><text x="-199">L-Hippo_CA1</text></g>
<g id="FNT-L-Amygdala" class="l" transform="rotate(-61.13)"><text x="-199">L-Amygdala</text></g>
<g id="FNT-L-Accumbens" class="l" transform="rotate(-54.34)"><circle class="sm" cx="-194" r="1.5"/><text x="-199">L-Accumbens</text></g>
<g id="FNT-L-Pallidum" class="l" transform="rotate(-47.55)"><circle class="bg" cx="-194" r="4.5"/><text x="-199">L-Pallidum</text></g>
<g id="FNT-L-Putamen" class="l" transform="rotate(-40.75)"><circle class="bg" cx="-194" r="4.5"/><text x="-199">L-Putamen</text></g>
<g id="FNT-L-Caudate" class="l" transform="rotate(-33.96)"><circle class="bg" cx="-194" r="3.5"/><text x="-199">L-Caudate</text></g>
<g id="FNT-L-MGN" class="l" transform="rotate(-27.17)"><circle class="mgn" cx="-194" r="19"/><text x="-199">L-MGN</text></g>
<g id="FNT-L-V_Anterior" class="l" transform="rotate(-20.38)"><text x="-199">L-V_Anterior</text></g>
<g id="FNT-L-VLD" class="l" transform="rotate(-13.58)"><circle class="th" cx="-194" r="3.5"/><text x="-199">L-VLD</text></g>
<g id="FNT-L-Anterior" class="l" transform="rotate(-6.79)"><text x="-199">L-Anterior</text></g>
<g id="FNT-L-PAC" class="l"><circle class="pac" cx="-194" r="22"/><text x="-199">L-PAC</text></g>
<g id="FNT-L-ITC" class="l" transform="rotate(6.79)"><circle class="sm" cx="-194" r="1.5"/><text x="-199">L-ITC</text></g>
<g id="FNT-L-TP" class="l" transform="rotate(13.58)"><circle class="sm" cx="-194" r="2.5"/><text x="-199">L-TP</text></g>
<g id="FNT-L-entorhinal" class="l" transform="rotate(20.38)"><text x="-199">L-entorhinal</text></g>
<g id="FNT-L-fusiform" class="l" transform="rotate(27.17)"><text x="-199">L-fusiform</text></g>
<g id="FNT-L-lingual" class="l" transform="rotate(33.96)"><text x="-199">L-lingual</text></g>
<g id="FNT-L-LOC" class="l" transform="rotate(40.75)"><circle class="loc" cx="-194" r="2.2"/><text x="-199">L-LOC</text></g>
<g id="FNT-L-precuneus" class="l" transform="rotate(47.55)"><text x="-199">L-precuneus</text></g>
<g id="FNT-L-IPC" class="l" transform="rotate(54.34)"><circle class="ipc" cx="-194" r="2.5"/><text x="-199">L-IPC</text></g>
<g id="FNT-L-SPC" class="l" transform="rotate(61.13)"><circle class="spc" cx="-194" r="5.5"/><text x="-199">L-SPC</text></g>
<g id="FNT-L-SFC" class="l" transform="rotate(67.92)"><circle class="sfc" cx="-194" r="5"/><text x="-199">L-SFC</text></g>
<g id="FNT-L-rMFC" class="l" transform="rotate(74.72)"><circle class="sfc" cx="-194" r="3.5"/><text x="-199">L-rMFC</text></g>
<g id="FNT-L-parso" class="l" transform="rotate(81.51)"><text x="-199">L-parso</text></g>
<g id="FNT-L-parstr" class="l" transform="rotate(88.3)"><text x="-199">L-parstr</text></g>
<g id="FNT-L-lOFC" transform="rotate(-84.91)"><circle class="sm" cx="194" r="1"/><text x="199">L-lOFC</text></g>
<g id="FNT-R-lOFC" transform="rotate(-78.11)"><circle class="sm" cx="194" r="1"/><text x="199">R-lOFC</text></g>
<g id="FNT-R-pars" transform="rotate(-71.32)"><circle class="sm" cx="194" r="1"/><text x="199">R-pars</text></g>
<g id="FNT-R-parstr" transform="rotate(-64.53)"><text x="199">R-parstr</text></g>
<g id="FNT-R-rMFC" transform="rotate(-57.74)"><circle class="sfc" cx="194" r="2"/><text x="199">R-rMFC</text></g>
<g id="FNT-R-SFC" transform="rotate(-50.94)"><circle class="sfc" cx="194" r="5.5"/><text x="199">R-SFC</text></g>
<g id="FNT-R-SPC" transform="rotate(-44.15)"><circle class="spc" cx="194" r="6"/><text x="199">R-SPC</text></g>
<g id="FNT-R-IPC" transform="rotate(-37.36)"><circle class="ipc" cx="194" r="3"/><text x="199">R-IPC</text></g>
<g id="FNT-R-precuneus" transform="rotate(-30.57)"><text x="199">R-precuneus</text></g>
<g id="FNT-R-LOC" transform="rotate(-23.77)"><circle class="sm" cx="194" r="1.2"/><text x="199">R-LOC</text></g>
<g id="FNT-R-fusiform" transform="rotate(-16.98)"><text x="199">R-fusiform</text></g>
<g id="FNT-R-entorhinal" transform="rotate(-10.19)"><text x="199">R-entorhinal</text></g>
<g id="FNT-R-TP" transform="rotate(-3.4)"><circle class="sm" cx="194" r="1.5"/><text x="199">R-TP</text></g>
<g id="FNT-R-ITC" transform="rotate(3.4)"><circle class="sm" cx="194" r="2.5"/><text x="199">R-ITC</text></g>
<g id="FNT-R-PAC" transform="rotate(10.19)"><circle class="pac" cx="194" r="14"/><text x="199">R-PAC</text></g>
<g id="FNT-R-Anterior" transform="rotate(16.98)"><circle class="th" cx="194" r="4"/><text x="199">R-Anterior</text></g>
<g id="FNT-R-Medio_Dorsal" transform="rotate(23.77)"><circle class="th" cx="194" r="3.5"/><text x="199">R-Medio_Dorsal</text></g>
<g id="FNT-R-V_Anterior" transform="rotate(30.57)"><text x="199">R-V_Anterior</text></g>
<g id="FNT-R-MGN" transform="rotate(37.36)"><circle class="mgn" cx="194" r="16"/><text x="199">R-MGN</text></g>
<g id="FNT-R-Caudate" transform="rotate(44.15)"><circle class="bg" cx="194" r="3.5"/><text x="199">R-Caudate</text></g>
<g id="FNT-R-Putamen" transform="rotate(50.94)"><circle class="bg" cx="194" r="5"/><text x="199">R-Putamen</text></g>
<g id="FNT-R-Pallidum" transform="rotate(57.74)"><circle class="bg" cx="194" r="6"/><text x="199">R-Pallidum</text></g>
<g id="FNT-R-Amygdala" transform="rotate(64.53)"><circle class="ca" cx="194" r="2.5"/><text x="199">R-Amygdala</text></g>
<g id="FNT-R-Hippo_CA1" transform="rotate(71.32)"><text x="199">R-Hippo_CA1</text></g>
<g id="FNT-R-IC" transform="rotate(78.11)"><circle class="ic" cx="194" r="7"/><text x="199">R-IC</text></g>
<g id="FNT-R-SOC-CN" transform="rotate(84.91)"><circle class="soc" cx="194" r="12"/><text x="199">R-SOC-CN</text></g>
</g>
</g>

<g id="PV" transform="translate(954,1364) scale(1.012,1)">
<text class="ttl" x="-12.8" y="-251">Physical Volume</text>
<g id="PV-connectors"><use href="#all" class="eg"/>
<g class="eb"><use href="#e34"/></g>
</g>
<g id="PV-nodes" class="n">
<g id="PV-L-SOC-CN" class="l" transform="rotate(-88.3)"><circle class="soc" cx="-194" r="11.5"/><text x="-199">L-SOC-CN</text></g>
<g id="PV-L-IC" class="l" transform="rotate(-81.51)"><circle class="ic" cx="-194" r="4"/><text x="-199">L-IC</text></g>
<g id="PV-L-Hippo_HATA" class="l" transform="rotate(-74.72)"><text x="-199">L-Hippo_HATA</text></g>
<g id="PV-L-Hippo_CA1" class="l" transform="rotate(-67.92)"><circle class="ca" cx="-194" r="2.5"/><text x="-199">L-Hippo_CA1</text></g>
<g id="PV-L-Amygdala" class="l" transform="rotate(-61.13)"><text x="-199">L-Amygdala</text></g>
<g id="PV-L-Accumbens" class="l" transform="rotate(-54.34)"><circle class="sm" cx="-194" r="1.5"/><text x="-199">L-Accumbens</text></g>
<g id="PV-L-Pallidum" class="l" transform="rotate(-47.55)"><circle class="bg" cx="-194" r="4.5"/><text x="-199">L-Pallidum</text></g>
<g id="PV-L-Putamen" class="l" transform="rotate(-40.75)"><circle class="bg" cx="-194" r="4.5"/><text x="-199">L-Putamen</text></g>
<g id="PV-L-Caudate" class="l" transform="rotate(-33.96)"><circle class="bg" cx="-194" r="3.5"/><text x="-199">L-Caudate</text></g>
<g id="PV-L-MGN" class="l" transform="rotate(-27.17)"><circle class="mgn" cx="-194" r="19"/><text x="-199">L-MGN</text></g>
<g id="PV-L-V_Anterior" class="l" transform="rotate(-20.38)"><text x="-199">L-V_Anterior</text></g>
<g id="PV-L-VLD" class="l" transform="rotate(-13.58)"><circle class="th" cx="-194" r="3.5"/><text x="-199">L-VLD</text></g>
<g id="PV-L-Anterior" class="l" transform="rotate(-6.79)"><text x="-199">L-Anterior</text></g>
<g id="PV-L-PAC" class="l"><circle class="pac" cx="-194" r="22"/><text x="-199">L-PAC</text></g>
<g id="PV-L-ITC" class="l" transform="rotate(6.79)"><circle class="sm" cx="-194" r="1.5"/><text x="-199">L-ITC</text></g>
<g id="PV-L-TP" class="l" transform="rotate(13.58)"><circle class="sm" cx="-194" r="2.5"/><text x="-199">L-TP</text></g>
<g id="PV-L-entorhinal" class="l" transform="rotate(20.38)"><text x="-199">L-entorhinal</text></g>
<g id="PV-L-fusiform" class="l" transform="rotate(27.17)"><text x="-199">L-fusiform</text></g>
<g id="PV-L-lingual" class="l" transform="rotate(33.96)"><text x="-199">L-lingual</text></g>
<g id="PV-L-LOC" class="l" transform="rotate(40.75)"><circle class="loc" cx="-194" r="2.2"/><text x="-199">L-LOC</text></g>
<g id="PV-L-precuneus" class="l" transform="rotate(47.55)"><text x="-199">L-precuneus</text></g>
<g id="PV-L-IPC" class="l" transform="rotate(54.34)"><circle class="ipc" cx="-194" r="2.5"/><text x="-199">L-IPC</text></g>
<g id="PV-L-SPC" class="l" transform="rotate(61.13)"><circle class="spc" cx="-194" r="5.5"/><text x="-199">L-SPC</text></g>
<g id="PV-L-SFC" class="l" transform="rotate(67.92)"><circle class="sfc" cx="-194" r="5"/><text x="-199">L-SFC</text></g>
<g id="PV-L-rMFC" class="l" transform="rotate(74.72)"><circle class="sfc" cx="-194" r="3.5"/><text x="-199">L-rMFC</text></g>
<g id="PV-L-parso" class="l" transform="rotate(81.51)"><text x="-199">L-parso</text></g>
<g id="PV-L-parstr" class="l" transform="rotate(88.3)"><text x="-199">L-parstr</text></g>
<g id="PV-L-lOFC" transform="rotate(-84.91)"><circle class="sm" cx="194" r="1"/><text x="199">L-lOFC</text></g>
<g id="PV-R-lOFC" transform="rotate(-78.11)"><circle class="sm" cx="194" r="1"/><text x="199">R-lOFC</text></g>
<g id="PV-R-pars" transform="rotate(-71.32)"><circle class="sm" cx="194" r="1"/><text x="199">R-pars</text></g>
<g id="PV-R-parstr" transform="rotate(-64.53)"><text x="199">R-parstr</text></g>
<g id="PV-R-rMFC" transform="rotate(-57.74)"><circle class="sfc" cx="194" r="2"/><text x="199">R-rMFC</text></g>
<g id="PV-R-SFC" transform="rotate(-50.94)"><circle class="sfc" cx="194" r="5.5"/><text x="199">R-SFC</text></g>
<g id="PV-R-SPC" transform="rotate(-44.15)"><circle class="spc" cx="194" r="6"/><text x="199">R-SPC</text></g>
<g id="PV-R-IPC" transform="rotate(-37.36)"><circle class="ipc" cx="194" r="3"/><text x="199">R-IPC</text></g>
<g id="PV-R-precuneus" transform="rotate(-30.57)"><text x="199">R-precuneus</text></g>
<g id="PV-R-LOC" transform="rotate(-23.77)"><circle class="sm" cx="194" r="1.2"/><text x="199">R-LOC</text></g>
<g id="PV-R-fusiform" transform="rotate(-16.98)"><text x="199">R-fusiform</text></g>
<g id="PV-R-entorhinal" transform="rotate(-10.19)"><text x="199">R-entorhinal</text></g>
<g id="PV-R-TP" transform="rotate(-3.4)"><circle class="sm" cx="194" r="1.5"/><text x="199">R-TP</text></g>
<g id="PV-R-ITC" transform="rotate(3.4)"><circle class="sm" cx="194" r="2.5"/><text x="199">R-ITC</text></g>
<g id="PV-R-PAC" transform="rotate(10.19)"><circle class="pac" cx="194" r="14"/><text x="199">R-PAC</text></g>
<g id="PV-R-Anterior" transform="rotate(16.98)"><circle class="th" cx="194" r="4"/><text x="199">R-Anterior</text></g>
<g id="PV-R-Medio_Dorsal" transform="rotate(23.77)"><circle class="th" cx="194" r="3.5"/><text x="199">R-Medio_Dorsal</text></g>
<g id="PV-R-V_Anterior" transform="rotate(30.57)"><text x="199">R-V_Anterior</text></g>
<g id="PV-R-MGN" transform="rotate(37.36)"><circle class="mgn" cx="194" r="16"/><text x="199">R-MGN</text></g>
<g id="PV-R-Caudate" transform="rotate(44.15)"><circle class="bg" cx="194" r="3.5"/><text x="199">R-Caudate</text></g>
<g id="PV-R-Putamen" transform="rotate(50.94)"><circle class="bg" cx="194" r="5"/><text x="199">R-Putamen</text></g>
<g id="PV-R-Pallidum" transform="rotate(57.74)"><circle class="bg" cx="194" r="6"/><text x="199">R-Pallidum</text></g>
<g id="PV-R-Amygdala" transform="rotate(64.53)"><circle class="ca" cx="194" r="2.5"/><text x="199">R-Amygdala</text></g>
<g id="PV-R-Hippo_CA1" transform="rotate(71.32)"><text x="199">R-Hippo_CA1</text></g>
<g id="PV-R-IC" transform="rotate(78.11)"><circle class="ic" cx="194" r="7"/><text x="199">R-IC</text></g>
<g id="PV-R-SOC-CN" transform="rotate(84.91)"><circle class="soc" cx="194" r="12"/><text x="199">R-SOC-CN</text></g>
</g>
</g>
</svg>
